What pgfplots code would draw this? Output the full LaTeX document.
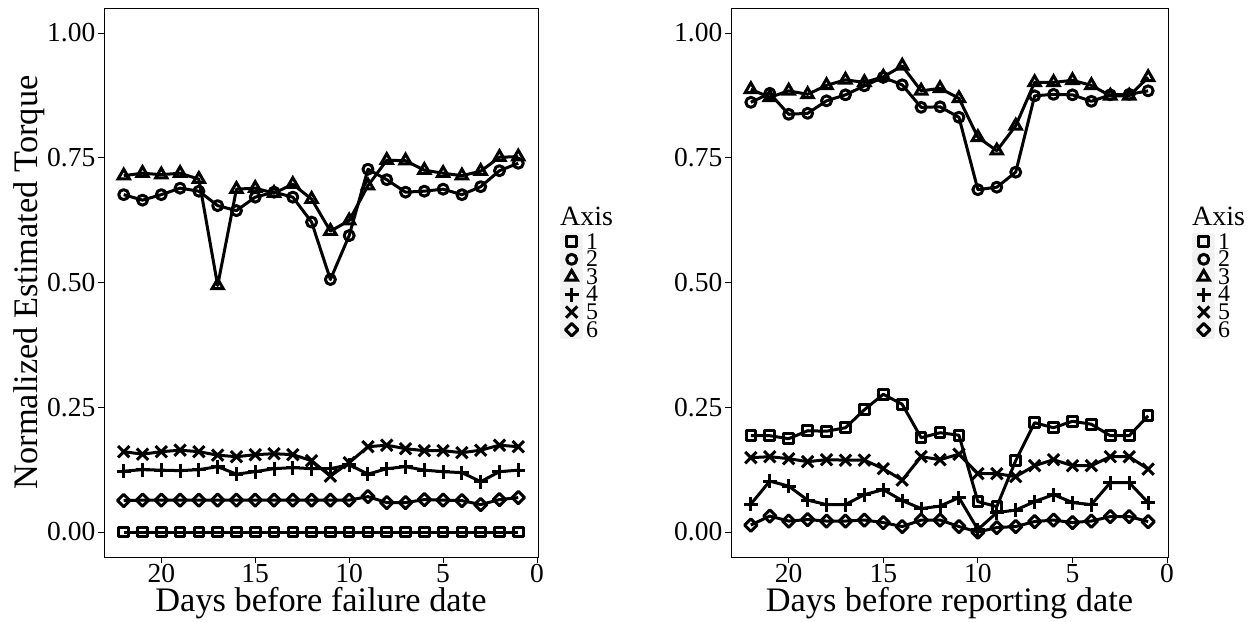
\documentclass[border=0pt]{standalone}
\usepackage{fontspec}
\setmainfont{Liberation Serif}
\usepackage{pgfplots}
\usepackage{pgfplotstable}
\pgfplotsset{compat=1.18}
\definecolor{keybg}{RGB}{242,242,242}

\pgfplotstableread{
d  s1 s2    s3    s4    s5    s6
22 0  0.676 0.714 0.122 0.161 0.063
21 0  0.665 0.719 0.125 0.156 0.064
20 0  0.676 0.716 0.124 0.161 0.064
19 0  0.689 0.719 0.123 0.164 0.064
18 0  0.683 0.707 0.125 0.161 0.064
17 0  0.654 0.494 0.131 0.154 0.064
16 0  0.644 0.687 0.116 0.151 0.064
15 0  0.671 0.689 0.121 0.155 0.064
14 0  0.681 0.679 0.127 0.157 0.064
13 0  0.671 0.697 0.129 0.155 0.064
12 0  0.621 0.667 0.127 0.143 0.064
11 0  0.506 0.603 0.127 0.112 0.064
10 0  0.594 0.624 0.135 0.139 0.064
9  0  0.727 0.694 0.116 0.171 0.071
8  0  0.706 0.745 0.127 0.174 0.059
7  0  0.681 0.744 0.131 0.167 0.059
6  0  0.683 0.725 0.124 0.163 0.065
5  0  0.687 0.719 0.121 0.163 0.064
4  0  0.676 0.714 0.119 0.159 0.063
3  0  0.692 0.723 0.101 0.164 0.055
2  0  0.724 0.751 0.121 0.174 0.065
1  0  0.739 0.752 0.124 0.171 0.069
}\leftdata

\pgfplotstableread{
d  s1    s2    s3    s4    s5    s6
22 0.193 0.861 0.887 0.056 0.149 0.014
21 0.193 0.879 0.871 0.102 0.151 0.032
20 0.187 0.837 0.884 0.092 0.147 0.022
19 0.203 0.839 0.877 0.064 0.141 0.025
18 0.202 0.864 0.895 0.055 0.145 0.022
17 0.209 0.876 0.906 0.055 0.144 0.022
16 0.245 0.894 0.901 0.075 0.144 0.024
15 0.276 0.911 0.912 0.085 0.127 0.019
14 0.256 0.896 0.934 0.063 0.104 0.011
13 0.189 0.851 0.884 0.047 0.151 0.024
12 0.199 0.852 0.889 0.052 0.145 0.024
11 0.194 0.831 0.869 0.069 0.156 0.011
10 0.061 0.686 0.791 0.005 0.117 0.000
9  0.051 0.691 0.764 0.039 0.117 0.009
8  0.143 0.721 0.814 0.044 0.111 0.011
7  0.219 0.874 0.901 0.061 0.133 0.021
6  0.209 0.877 0.901 0.075 0.145 0.024
5  0.222 0.876 0.905 0.059 0.133 0.019
4  0.216 0.863 0.895 0.055 0.133 0.022
3  0.193 0.876 0.874 0.099 0.151 0.031
2  0.193 0.877 0.874 0.099 0.151 0.031
1  0.233 0.884 0.911 0.059 0.126 0.021
}\rightdata

\pgfplotsset{
  panel/.style={
    scale only axis, height=549bp,
    x dir=reverse, xmin=-0.05, xmax=23.05, ymin=-0.05, ymax=1.05,
    xtick={0,5,10,15,20}, xticklabels={0,5,10,15,20},
    ytick={0,0.25,0.5,0.75,1}, yticklabels={0.00,0.25,0.50,0.75,1.00},
    tick pos=left, tick align=outside, major tick length=6bp,
    every tick/.style={black, line width=0.8bp},
    axis line style={black, line width=0.8bp},
    ticklabel style={font=\fontsize{27.6}{30}\selectfont, text=black},
    xticklabel style={anchor=base, inner sep=0pt, yshift=-19bp},
    yticklabel style={anchor=east, inner sep=0pt, xshift=-2.5bp},
    clip=false,
    legend cell align=left,
    legend style={draw=none, fill=none, anchor=north west, inner sep=0pt,
      row sep=0pt, column sep=3bp, font=\fontsize{24}{24}\selectfont,
      nodes={inner sep=0pt, text height=14.6bp, text depth=0bp}},
    legend image code/.code={
      \fill[keybg] (-10bp,-7.3bp) rectangle (10bp,7.3bp);
      \draw[##1, line width=3.6bp] plot[only marks] coordinates {(0bp,0bp)};},
    every axis x label/.style={at={(axis description cs:0.5,-0.0996)}, anchor=base,
      font=\fontsize{34.5}{36}\selectfont},
    every axis y label/.style={at={(axis description cs:-0.154,0.5)}, rotate=90, anchor=base,
      font=\fontsize{34.5}{36}\selectfont},
  },
  ser/.style={black, line width=3bp, line join=round, solid},
  s1/.style={ser, mark=square, mark size=4.8bp, mark options={line width=3bp, solid, fill=none}},
  s2/.style={ser, mark=o, mark size=5bp, mark options={line width=3bp, solid, fill=none}},
  s3/.style={ser, mark=triangle, mark size=6.5bp, mark options={line width=3bp, solid, fill=none, line join=miter}},
  s4/.style={ser, mark=+, mark size=7bp, mark options={line width=3bp, solid}},
  s5/.style={ser, mark=x, mark size=8bp, mark options={line width=3bp, solid}},
  s6/.style={ser, mark=square, mark size=4.4bp, mark options={line width=3bp, solid, fill=none, rotate=45}},
}

\begin{document}
\begin{tikzpicture}
\useasboundingbox (0,0) rectangle (1258bp,622bp);
\begin{axis}[panel, width=434bp, at={(104bp,65bp)}, anchor=south west,
  xlabel={Days before failure date}, ylabel={Normalized Estimated Torque},
  legend style={at={(axis description cs:1.0507,0.5907)}}]
\addplot[s1] table[x=d,y=s1] {\leftdata}; \addlegendentry{1}
\addplot[s2] table[x=d,y=s2] {\leftdata}; \addlegendentry{2}
\addplot[s3] table[x=d,y=s3] {\leftdata}; \addlegendentry{3}
\addplot[s4] table[x=d,y=s4] {\leftdata}; \addlegendentry{4}
\addplot[s5] table[x=d,y=s5] {\leftdata}; \addlegendentry{5}
\addplot[s6] table[x=d,y=s6] {\leftdata}; \addlegendentry{6}
\node[anchor=base west, inner sep=0pt, font=\fontsize{28}{28}\selectfont] at (axis description cs:1.0507,0.6047) {Axis};
\end{axis}
\begin{axis}[panel, width=437bp, at={(731bp,65bp)}, anchor=south west,
  xlabel={Days before reporting date},
  legend style={at={(axis description cs:1.055,0.5907)}}]
\addplot[s1] table[x=d,y=s1] {\rightdata}; \addlegendentry{1}
\addplot[s2] table[x=d,y=s2] {\rightdata}; \addlegendentry{2}
\addplot[s3] table[x=d,y=s3] {\rightdata}; \addlegendentry{3}
\addplot[s4] table[x=d,y=s4] {\rightdata}; \addlegendentry{4}
\addplot[s5] table[x=d,y=s5] {\rightdata}; \addlegendentry{5}
\addplot[s6] table[x=d,y=s6] {\rightdata}; \addlegendentry{6}
\node[anchor=base west, inner sep=0pt, font=\fontsize{28}{28}\selectfont] at (axis description cs:1.055,0.6047) {Axis};
\end{axis}
\end{tikzpicture}
\end{document}
